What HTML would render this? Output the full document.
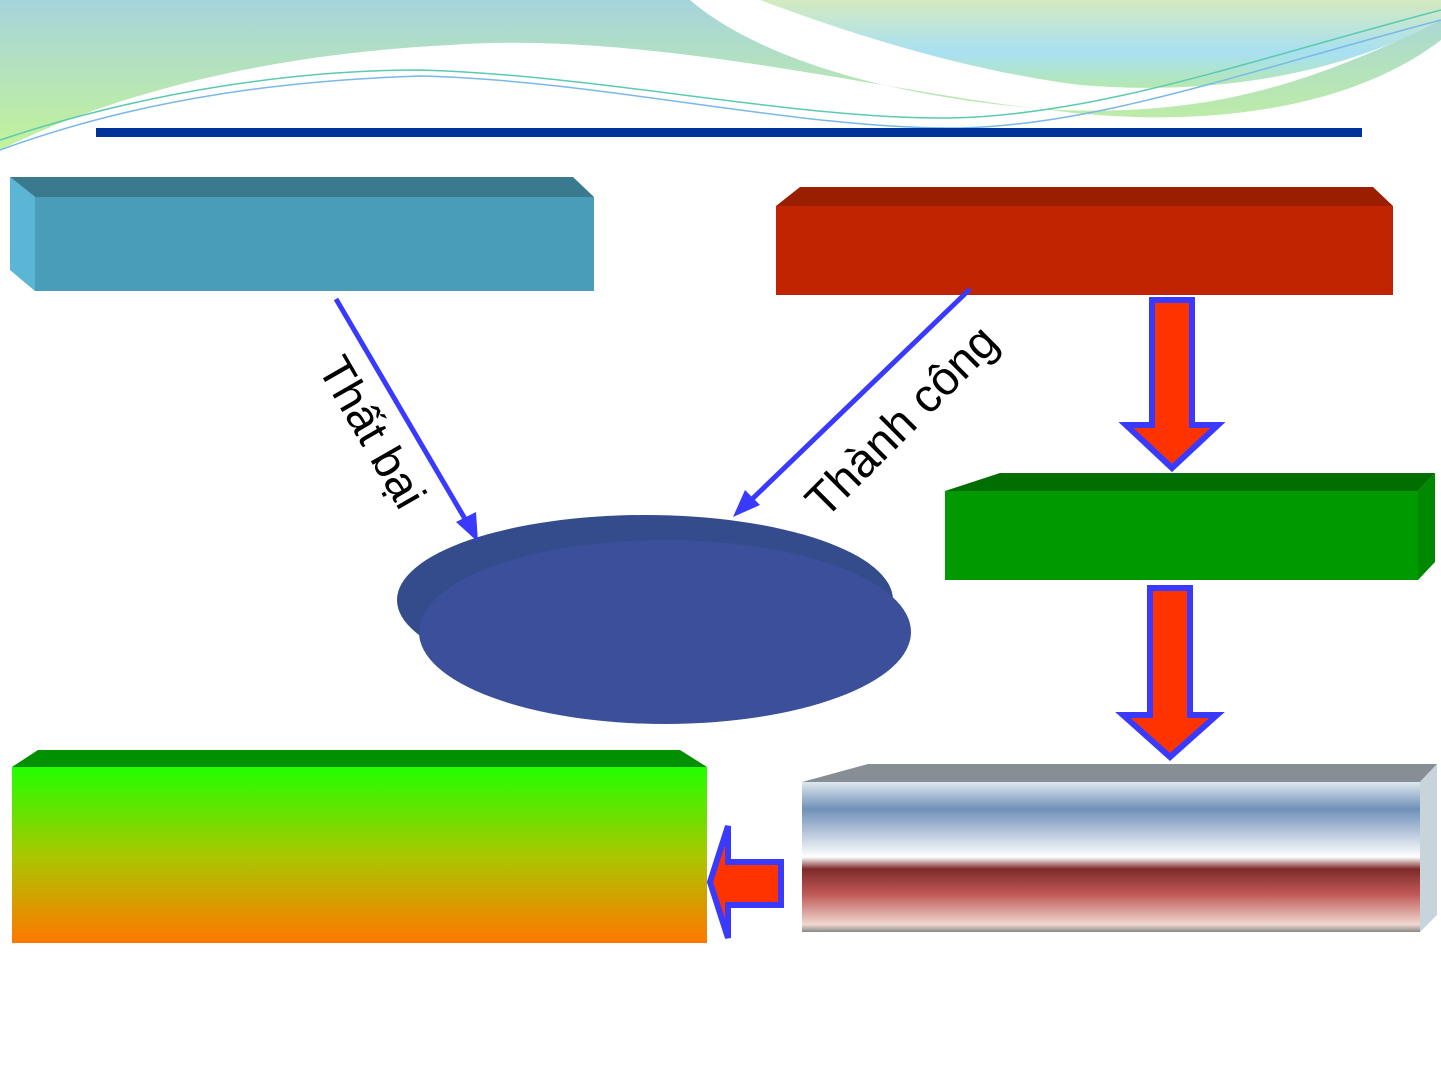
<!DOCTYPE html>
<html><head><meta charset="utf-8"><style>body{margin:0;background:#fff}svg{display:block}</style></head><body>
<svg width="1441" height="1081" viewBox="0 0 1441 1081" xmlns="http://www.w3.org/2000/svg">
<defs>
<linearGradient id="bg1" x1="0" y1="0" x2="0" y2="1"><stop offset="0" stop-color="#a6d4dc"/><stop offset="1" stop-color="#c3f29a"/></linearGradient>
<linearGradient id="bg2" x1="0" y1="0" x2="0" y2="1"><stop offset="0" stop-color="#d4eac0"/><stop offset="0.6" stop-color="#a8e0f2"/><stop offset="1" stop-color="#b5e8b0"/></linearGradient>
<linearGradient id="gr" x1="0" y1="0" x2="0" y2="1"><stop offset="0" stop-color="#22ff00"/><stop offset="0.5" stop-color="#a8c800"/><stop offset="1" stop-color="#ff7800"/></linearGradient>
<linearGradient id="mt" x1="0" y1="0" x2="0" y2="1"><stop offset="0" stop-color="#dfe8ee"/><stop offset="0.18" stop-color="#7090b8"/><stop offset="0.5" stop-color="#ffffff"/><stop offset="0.58" stop-color="#7e2a2a"/><stop offset="0.75" stop-color="#c05a58"/><stop offset="0.95" stop-color="#f0d8d0"/><stop offset="1" stop-color="#888"/></linearGradient>
</defs>
<path d="M0,0 H690 C760,60 900,100 1060,110 C1200,115 1300,90 1441,20 V40 C1350,110 1200,130 1050,110 C900,95 650,30 450,45 C250,55 100,100 0,150 Z" fill="url(#bg1)"/>
<path d="M760,0 H1441 V20 C1330,80 1200,95 1080,85 C960,70 840,30 760,0 Z" fill="url(#bg2)"/>
<path d="M0,140 C150,90 300,70 420,70 C600,75 800,120 950,118 C1100,115 1250,60 1441,10" fill="none" stroke="#5ccab0" stroke-width="1.5"/>
<path d="M0,150 C150,95 300,80 420,76 C600,80 800,130 960,128 C1100,125 1250,70 1441,20" fill="none" stroke="#7ab8e8" stroke-width="1.5"/>
<rect x="96" y="128" width="1266" height="9" fill="#003399"/>
<polygon points="10,177 573,177 594,197 35,197" fill="#3b7a8e"/>
<polygon points="10,177 35,197 35,291 10,270" fill="#5bb5d5"/>
<rect x="35" y="197" width="559" height="94" fill="#4a9db8"/>
<polygon points="800,187 1373,187 1393,206 776,206" fill="#9a1e00"/>
<rect x="776" y="206" width="617" height="89" fill="#c02400"/>
<polygon points="1000,473 1435,473 1418,491 945,491" fill="#006e00"/>
<polygon points="1418,491 1435,473 1435,562 1418,580" fill="#008800"/>
<rect x="945" y="491" width="473" height="89" fill="#009900"/>
<polygon points="38,750 680,750 707,767 12,767" fill="#009000"/>
<rect x="12" y="767" width="695" height="176" fill="url(#gr)"/>
<polygon points="868,764 1437,764 1420,782 802,782" fill="#888e96"/>
<polygon points="1420,782 1437,764 1437,915 1420,932" fill="#c8d4dc"/>
<rect x="802" y="782" width="618" height="150" fill="url(#mt)"/>
<ellipse cx="645" cy="600" rx="248" ry="85" fill="#344c8c"/>
<ellipse cx="665" cy="632" rx="246" ry="92" fill="#3b4f9a"/>
<line x1="336" y1="299" x2="468" y2="524" stroke="#3a3aff" stroke-width="5"/>
<polygon points="478,542 456,522 476,512" fill="#3a3aff"/>
<line x1="970" y1="289" x2="748" y2="503" stroke="#3a3aff" stroke-width="5"/>
<polygon points="733,517 745,490 760,505" fill="#3a3aff"/>
<text transform="translate(317,368) rotate(60)" font-family="Liberation Sans, sans-serif" font-size="46" fill="#000">Thất bại</text>
<text transform="translate(825,520) rotate(-45)" font-family="Liberation Sans, sans-serif" font-size="47" fill="#000">Thành công</text>
<polygon points="1152,300 1192,300 1192,425 1218,425 1172,468 1126,425 1152,425" fill="#ff3300" stroke="#3a3aff" stroke-width="6"/>
<polygon points="1150,588 1190,588 1190,715 1217,715 1170,757 1123,715 1150,715" fill="#ff3300" stroke="#3a3aff" stroke-width="6"/>
<polygon points="781,862 781,905 728,905 728,938 710,882 728,826 728,862" fill="#ff3300" stroke="#3a3aff" stroke-width="6"/>
</svg>
</body></html>
